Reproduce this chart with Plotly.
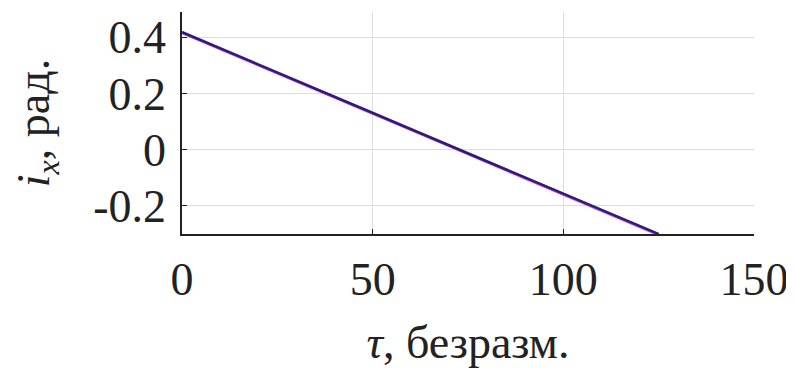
import plotly.graph_objects as go

tau = [0, 10, 20, 30, 40, 50, 60, 70, 80, 90, 100, 110, 120, 125]
ix_blue = [0.418, 0.361, 0.303, 0.246, 0.188, 0.131, 0.073, 0.016, -0.042, -0.099, -0.156, -0.214, -0.271, -0.300]
ix_magenta = [0.417, 0.360, 0.302, 0.245, 0.187, 0.130, 0.072, 0.015, -0.043, -0.100, -0.158, -0.216, -0.274, -0.302]

x_ticks = [0, 50, 100, 150]
y_ticks = [-0.2, 0, 0.2, 0.4]
y_tick_text = ["-0.2", "0", "0.2", "0.4"]

font_family = "Liberation Serif, Times New Roman, serif"

fig = go.Figure()
fig.add_trace(go.Scatter(x=tau, y=ix_magenta, mode="lines",
                         line=dict(color="#d040c8", width=3.2), showlegend=False))
fig.add_trace(go.Scatter(x=tau, y=ix_blue, mode="lines",
                         line=dict(color="#22217a", width=2.4), showlegend=False))

fig.update_layout(
    width=786, height=360,
    margin=dict(l=174, r=40, t=4, b=134, autoexpand=False),
    paper_bgcolor="white", plot_bgcolor="white",
    font=dict(family=font_family, size=46, color="#222222"),
    xaxis=dict(
        range=[0, 150], tickvals=x_ticks, ticktext=[str(v) for v in x_ticks],
        showgrid=True, gridcolor="#dcdcdc", gridwidth=1,
        showline=True, linecolor="#222222", linewidth=1.5,
        ticks="inside", ticklen=5, tickcolor="#222222",
        zeroline=False, ticklabelstandoff=4, automargin=False,
        title=dict(text="<i>τ</i>, безразм.", font=dict(size=46), standoff=34),
    ),
    yaxis=dict(
        range=[-0.3, 0.49], tickvals=y_ticks, ticktext=y_tick_text,
        showgrid=True, gridcolor="#dcdcdc", gridwidth=1,
        showline=True, linecolor="#222222", linewidth=1.5,
        ticks="inside", ticklen=5, tickcolor="#222222",
        zeroline=False, ticklabelstandoff=5, automargin=False,
        title=dict(text="<i>i</i><sub><i>x</i></sub>, рад.", font=dict(size=46), standoff=31),
    ),
)

fig.write_html("out.html")
